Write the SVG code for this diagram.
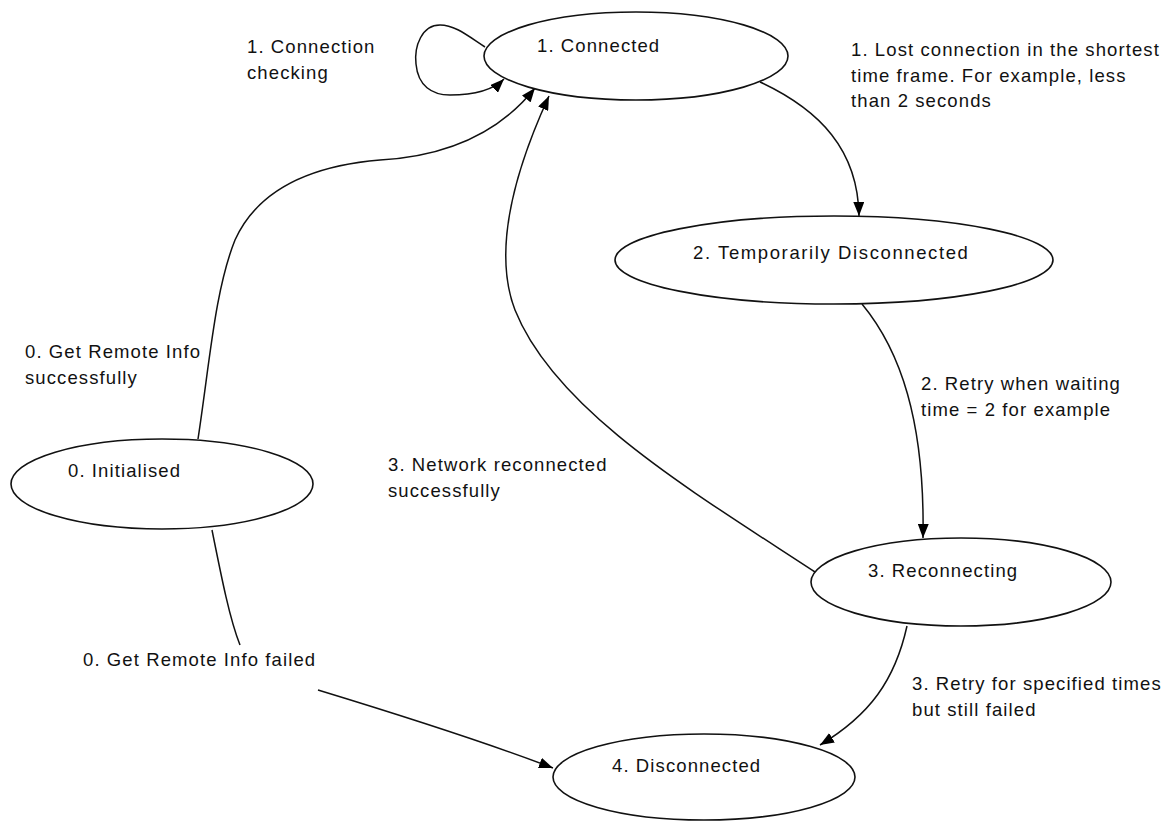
<svg xmlns="http://www.w3.org/2000/svg" width="1175" height="822" viewBox="0 0 1175 822">
<defs>
<marker id="arr" markerUnits="userSpaceOnUse" markerWidth="14" markerHeight="11" viewBox="0 0 14 11" refX="14" refY="5.5" orient="auto">
<path d="M0,0 L14,5.5 L0,11 z" fill="#000"/>
</marker>
<style>
.node{fill:#fff;stroke:#111;stroke-width:1.6}
.edge{fill:none;stroke:#111;stroke-width:1.5}
text{font-family:"Liberation Sans",Arial,sans-serif;font-size:18.5px;letter-spacing:1.1px;fill:#111}
</style>
</defs>
<rect width="1175" height="822" fill="#fff"/>
<g id="connectors">
<path class="edge" d="M485,47 C468,36 455,25 440,25 C422,25 414,46 416,64 C418,86 432,95 450,95 C475,95 493,90 504,79" marker-end="url(#arr)"/>
<path class="edge" d="M198,439 C210,360 215,290 235,240 C260,185 320,165 380,160 C450,156 500,132 535,88" marker-end="url(#arr)"/>
<path class="edge" d="M815,572 C690,490 555,410 515,310 C492,250 515,170 549,96" marker-end="url(#arr)"/>
<path class="edge" d="M760,82 C820,110 858,150 859,216" marker-end="url(#arr)"/>
<path class="edge" d="M862,304 C900,350 925,420 923,538" marker-end="url(#arr)"/>
<path class="edge" d="M907,626 C895,680 870,715 820,745" marker-end="url(#arr)"/>
<path class="edge" d="M212,530 C222,580 230,620 240,645"/>
<path class="edge" d="M318,690 C400,715 480,740 553,768" marker-end="url(#arr)"/>
</g>
<g id="n1">
<ellipse class="node" cx="636" cy="56" rx="152" ry="44"/>
<text x="537" y="52">1. Connected</text>
</g>
<g id="n2">
<ellipse class="node" cx="834" cy="260" rx="219" ry="44"/>
<text x="693" y="259" textLength="276" lengthAdjust="spacing">2. Temporarily Disconnected</text>
</g>
<g id="n3">
<ellipse class="node" cx="961" cy="582" rx="150" ry="44"/>
<text x="868" y="577">3. Reconnecting</text>
</g>
<g id="n0">
<ellipse class="node" cx="162" cy="484" rx="151" ry="45"/>
<text x="68" y="477">0. Initialised</text>
</g>
<g id="n4">
<ellipse class="node" cx="704" cy="777" rx="151" ry="43"/>
<text x="612" y="772">4. Disconnected</text>
</g>
<g id="labels">
<text x="247" y="53">1. Connection</text>
<text x="247" y="79">checking</text>
<text x="851" y="56">1. Lost connection in the shortest</text>
<text x="851" y="82">time frame.  For example, less</text>
<text x="851" y="107">than 2 seconds</text>
<text x="921" y="390">2. Retry when waiting</text>
<text x="921" y="416">time = 2 for example</text>
<text x="388" y="471">3. Network reconnected</text>
<text x="388" y="497">successfully</text>
<text x="25" y="358">0. Get Remote Info</text>
<text x="25" y="384">successfully</text>
<text x="83" y="666">0. Get Remote Info failed</text>
<text x="912" y="690">3. Retry for specified times</text>
<text x="912" y="716">but still failed</text>
</g>
</svg>
